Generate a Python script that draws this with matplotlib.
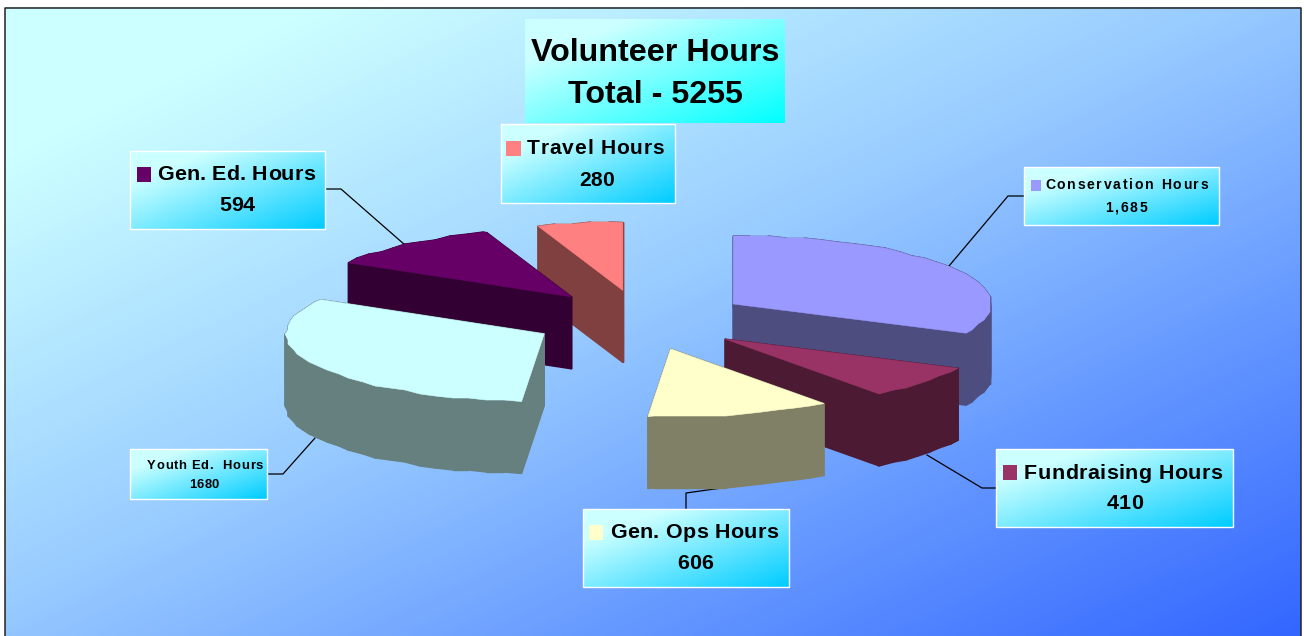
import numpy as np
import matplotlib
matplotlib.use("Agg")
import matplotlib.pyplot as plt
from matplotlib.colors import LinearSegmentedColormap, to_rgb
from matplotlib.patches import Polygon, Rectangle
from matplotlib.text import Text

# ---- data ----
categories = ["Conservation Hours", "Fundraising Hours", "Gen. Ops Hours",
              "Youth Ed.  Hours", "Gen. Ed. Hours", "Travel Hours"]
hours = [1685, 410, 606, 1680, 594, 280]
value_labels = ["1,685", "410", "606", "1680", "594", "280"]
title_lines = ["Volunteer Hours", "Total - 5255"]

# ---- style / layout ----
W, H = 1304, 636
top_colors = ["#9999FF", "#993366", "#FFFFCC", "#CCFFFF", "#660066", "#FF8080"]
draw_order = [5, 4, 3, 0, 1, 2]
CX, CY, RX, RY, DEPTH = 641, 320, 258, 68, 72
EXPLODE_X, EXPLODE_Y = 109, 30

# box (x0, y0, x1, y1), swatch (x0, y0, x1, y1), name (x0, x1, baseline),
# value (x0, x1, baseline), font px, leader polyline
layout = [
    ((1024, 167, 1219, 225), (1031, 180, 1041, 191), (1045, 1208, 189), (1105, 1147, 212), 14,
     [(1024, 196), (1008, 196), (949, 266)]),
    ((996, 449, 1233, 527), (1003, 465, 1017, 480), (1024, 1222, 479), (1107, 1143, 509), 21.5,
     [(996, 488), (982, 488), (927, 455)]),
    ((583, 509, 789, 587), (589, 525, 603, 540), (610, 778, 538), (677, 713, 569), 21.5,
     [(686, 509), (686, 493), (743, 485)]),
    ((130, 449, 267, 499), (137, 461, 145, 468), (147, 263, 469), (189, 219, 488), 13,
     [(267, 474), (283, 474), (315, 438)]),
    ((130, 151, 325, 229), (137, 167, 151, 182), (157, 315, 180), (219, 255, 211), 21.5,
     [(325, 189), (341, 189), (405, 245)]),
    ((501, 124, 675, 203), (506, 141, 521, 156), (527, 664, 154), (579, 614, 186), 21,
     None),
]

bg_cmap = LinearSegmentedColormap.from_list(
    "bg", [(0, "#CCFFFF"), (0.12, "#CCFFFF"), (0.47, "#99CCFF"), (0.73, "#6699FF"), (1, "#3366FF")])
box_cmap = LinearSegmentedColormap.from_list(
    "box", [(0, "#CCFFFF"), (0.2, "#CCFFFF"), (1, "#00CCFF")])
title_cmap = LinearSegmentedColormap.from_list(
    "title", [(0, "#CCFFFF"), (0.2, "#CCFFFF"), (1, "#00FFFF")])


class SpacedText(Text):
    """Single text artist laid out with letter spacing to fill a pixel width."""

    def __init__(self, x0, x1, baseline, s, **kw):
        super().__init__(x0, baseline, s, ha="left", va="baseline", **kw)
        self._x1 = x1

    def draw(self, renderer):
        s, fp = self.get_text(), self.get_fontproperties()
        widths = [renderer.get_text_width_height_descent(c, fp, False)[0] for c in s]
        px0, py = self.get_transform().transform((self.get_position()[0], self.get_position()[1]))
        px1, _ = self.get_transform().transform((self._x1, self.get_position()[1]))
        extra = ((px1 - px0) - sum(widths)) / max(len(s) - 1, 1)
        gc = renderer.new_gc()
        gc.set_foreground(self.get_color())
        gc.set_antialiased(True)
        x = px0
        canvas_h = renderer.get_canvas_width_height()[1]
        for c, w in zip(s, widths):
            if c != " ":
                renderer.draw_text(gc, x, canvas_h - py, c, fp, 0, False, None)
            x += w + extra
        gc.restore()


def gradient_rect(ax, box, cmap, zorder):
    x0, y0, x1, y1 = box
    w, h = int(x1 - x0), int(y1 - y0)
    yy, xx = np.mgrid[0:h, 0:w]
    t = (xx / max(w - 1, 1) + yy / max(h - 1, 1)) / 2
    ax.imshow(t, extent=(x0, x1, y1, y0), cmap=cmap, vmin=0, vmax=1,
              aspect="auto", zorder=zorder, interpolation="bilinear")


def rim(a0, a1, ox, oy):
    """Coarse low-resolution rim like the original renderer's."""
    angles = np.arange(a0, a1, 4.0)
    angles = np.append(angles, a1)
    xs = ox + RX * np.sin(np.radians(angles))
    ys = oy - RY * np.cos(np.radians(angles))
    xs[1:-1] = np.round(xs[1:-1] / 3) * 3
    ys[1:-1] = np.round(ys[1:-1] / 2) * 2
    return np.column_stack([xs, ys])


fig = plt.figure(figsize=(W / 100, H / 100), dpi=100, facecolor="white")
ax = fig.add_axes([0, 0, 1, 1])
ax.set_xlim(0, W)
ax.set_ylim(H, 0)
ax.axis("off")

plt.rcParams["font.family"] = ["Liberation Sans", "DejaVu Sans"]

# background + frame
gradient_rect(ax, (5, 7, 1301, H), bg_cmap, 0)
ax.set_xlim(0, W)
ax.set_ylim(H, 0)
ax.plot([5, 5, 1301, 1301], [H, 7.5, 7.5, H], color="#222222", lw=1.1, zorder=1)

# leader lines
for item in layout:
    if item[5] is not None:
        xs, ys = zip(*item[5])
        ax.plot(xs, ys, color="black", lw=0.9, zorder=2)

# pie slices, from the values
values = np.array(hours, dtype=float)
edges = np.concatenate([[0], np.cumsum(values)]) / values.sum() * 360
for rank, i in enumerate(draw_order):
    a0, a1 = edges[i], edges[i + 1]
    mid = np.radians((a0 + a1) / 2)
    ox = CX + EXPLODE_X * np.sin(mid)
    oy = CY - EXPLODE_Y * np.cos(mid)
    top = np.vstack([[ox, oy], rim(a0, a1, ox, oy)])
    side = tuple(c / 2 for c in to_rgb(top_colors[i]))
    z = 3 + rank
    n = len(top)
    for k in range(n):
        p, q = top[k], top[(k + 1) % n]
        quad = [p, q, q + [0, DEPTH], p + [0, DEPTH]]
        ax.add_patch(Polygon(quad, closed=True, fc=side, ec=side, lw=1.0, zorder=z))
    ax.add_patch(Polygon(top, closed=True, fc=top_colors[i], ec=top_colors[i], lw=0.4, zorder=z + 0.5))

# labels
for i, (box, sw, nm, val, px, _) in enumerate(layout):
    gradient_rect(ax, box, box_cmap, 20)
    ax.set_xlim(0, W)
    ax.set_ylim(H, 0)
    ax.add_patch(Rectangle(box[:2], box[2] - box[0], box[3] - box[1], fc="none", ec="white", lw=1.0, zorder=21))
    ax.add_patch(Rectangle(sw[:2], sw[2] - sw[0], sw[3] - sw[1], fc=top_colors[i], ec="none", zorder=22))
    pt = px * 0.72
    for (x0, x1, b), s in ((nm, categories[i]), (val, value_labels[i])):
        t = SpacedText(x0, x1, b, s, fontsize=pt, fontweight="bold", color="black",
                       transform=ax.transData, zorder=23, family=["Liberation Sans"])
        ax.add_artist(t)

# title
gradient_rect(ax, (525, 19, 785, 123), title_cmap, 20)
ax.set_xlim(0, W)
ax.set_ylim(H, 0)
ax.text(655.5, 61, title_lines[0], fontsize=23.2, fontweight="bold", ha="center", va="baseline", zorder=23)
ax.text(655, 103, title_lines[1], fontsize=23.2, fontweight="bold", ha="center", va="baseline", zorder=23)

fig.savefig("out.png", dpi=100, facecolor="white")
